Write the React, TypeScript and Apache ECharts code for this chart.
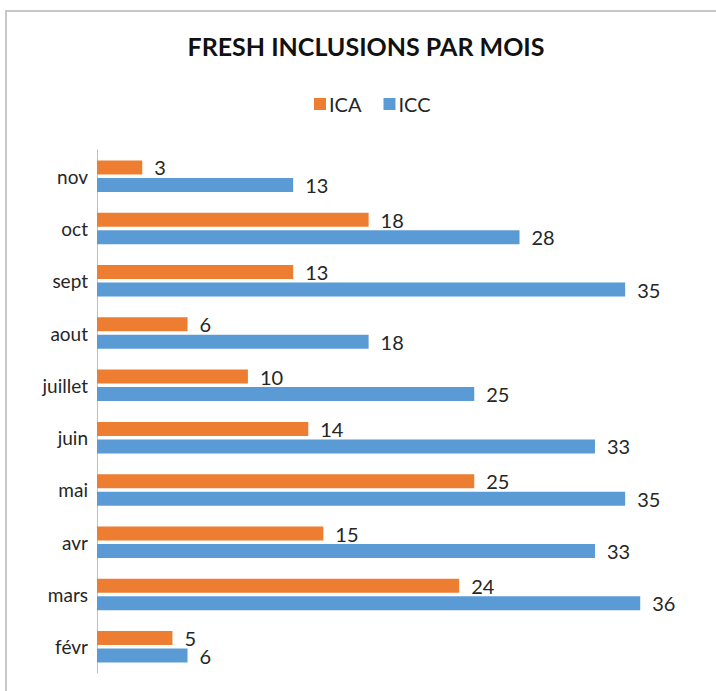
import React, { useEffect, useRef } from "react";
import * as echarts from "echarts";

const categories = ["févr", "mars", "avr", "mai", "juin", "juillet", "aout", "sept", "oct", "nov"];
const icaValues = [5, 24, 15, 25, 14, 10, 6, 13, 18, 3];
const iccValues = [6, 36, 33, 35, 33, 25, 18, 35, 28, 13];
const seriesNames = ["ICA", "ICC"];
const titleText = "FRESH INCLUSIONS PAR MOIS";

const FONT = "Lato, 'DejaVu Sans Condensed', sans-serif";

export default function App() {
  const ref = useRef<HTMLDivElement>(null);
  useEffect(() => {
    if (!ref.current) return;
    const chart = echarts.init(ref.current, undefined, { renderer: "svg" });
    const labelStyle = {
      show: true,
      position: "right" as const,
      distance: 12,
      color: "#262626",
      fontSize: 20,
      fontFamily: FONT,
      padding: [4, 0, 0, 0],
    };
    chart.setOption({
      animation: false,
      backgroundColor: "#ffffff",
      title: {
        text: titleText,
        left: 366,
        textAlign: "center",
        top: 33,
        padding: 0,
        textStyle: { fontSize: 25, fontWeight: "bold", color: "#111111", fontFamily: FONT },
      },
      legend: {
        data: seriesNames,
        top: 89,
        left: 309,
        itemWidth: 12,
        itemHeight: 12,
        itemGap: 22,
        icon: "rect",
        textStyle: { fontSize: 20, color: "#262626", fontFamily: FONT, padding: [0, 0, 0, -2] },
      },
      graphic: [
        {
          type: "rect",
          shape: { x: 6, y: 11, width: 800, height: 800 },
          style: { fill: "none", stroke: "#c8c8c8", lineWidth: 2 },
          silent: true,
        },
      ],
      grid: { left: 97, top: 150, width: 603.6, height: 523 },
      xAxis: {
        type: "value",
        min: 0,
        max: 40,
        show: false,
        splitLine: { show: false },
      },
      yAxis: {
        type: "category",
        data: categories,
        axisLine: { show: true, lineStyle: { color: "#bfbfbf", width: 1 } },
        axisTick: { show: false },
        axisLabel: { fontSize: 19, color: "#262626", fontFamily: FONT, margin: 9 },
      },
      series: [
        {
          name: "ICA",
          type: "bar",
          data: icaValues,
          barWidth: 14,
          barGap: "25%",
          itemStyle: { color: "#ED7D31" },
          label: labelStyle,
        },
        {
          name: "ICC",
          type: "bar",
          data: iccValues,
          barWidth: 14,
          barGap: "25%",
          itemStyle: { color: "#5B9BD5" },
          label: labelStyle,
        },
      ],
    });
    return () => chart.dispose();
  }, []);
  return (
    <div
      ref={ref}
      style={{ position: "absolute", left: 0, top: 0, width: 716, height: 691 }}
    />
  );
}
